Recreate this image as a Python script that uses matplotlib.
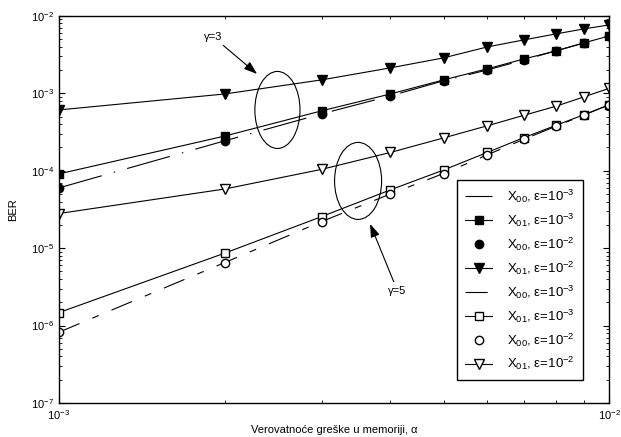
import matplotlib
matplotlib.use("Agg")
from matplotlib import pyplot as plt
from matplotlib.patches import Ellipse
from matplotlib.ticker import NullFormatter

plt.rcParams["font.family"] = ["Liberation Sans", "DejaVu Sans"]
plt.rcParams["font.size"] = 8
plt.rcParams["mathtext.fontset"] = "custom"
plt.rcParams["mathtext.rm"] = "Liberation Sans"
plt.rcParams["mathtext.it"] = "Liberation Sans:italic"
plt.rcParams["lines.scale_dashes"] = False

# memory error probability
alpha = [1e-3, 2e-3, 3e-3, 4e-3, 5e-3, 6e-3, 7e-3, 8e-3, 9e-3, 1e-2]

# gamma = 3
x00_e3_g3 = [6.0e-5, 2.43e-4, 5.42e-4, 9.25e-4, 1.45e-3, 2.0e-3, 2.7e-3, 3.53e-3, 4.48e-3, 5.52e-3]
x01_e3_g3 = [9.1e-5, 2.8e-4, 5.93e-4, 9.8e-4, 1.49e-3, 2.07e-3, 2.78e-3, 3.53e-3, 4.48e-3, 5.52e-3]
x00_e2_g3 = [6.0e-5, 2.43e-4, 5.42e-4, 9.25e-4, 1.45e-3, 2.0e-3, 2.7e-3, 3.53e-3, 4.48e-3, 5.52e-3]
x01_e2_g3 = [6.1e-4, 9.8e-4, 1.49e-3, 2.13e-3, 2.87e-3, 3.97e-3, 4.9e-3, 5.85e-3, 6.8e-3, 7.65e-3]

# gamma = 5
x00_e3_g5 = [8.2e-7, 6.5e-6, 2.2e-5, 5.0e-5, 9.2e-5, 1.6e-4, 2.55e-4, 3.75e-4, 5.25e-4, 7.1e-4]
x01_e3_g5 = [1.47e-6, 8.6e-6, 2.55e-5, 5.65e-5, 1.02e-4, 1.72e-4, 2.68e-4, 3.85e-4, 5.3e-4, 7.1e-4]
x00_e2_g5 = [8.2e-7, 6.5e-6, 2.2e-5, 5.0e-5, 9.2e-5, 1.6e-4, 2.55e-4, 3.75e-4, 5.25e-4, 7.1e-4]
x01_e2_g5 = [2.8e-5, 5.8e-5, 1.04e-4, 1.72e-4, 2.65e-4, 3.8e-4, 5.2e-4, 6.8e-4, 9.0e-4, 1.16e-3]

lbl_00_3 = r"X$_{00}$, ε=10$^{-3}$"
lbl_01_3 = r"X$_{01}$, ε=10$^{-3}$"
lbl_00_2 = r"X$_{00}$, ε=10$^{-2}$"
lbl_01_2 = r"X$_{01}$, ε=10$^{-2}$"

fig = plt.figure(figsize=(6.21, 4.37), dpi=100)
ax = fig.add_axes([0.095, 0.078, 0.886, 0.8856])

lw = 0.8
ax.plot(alpha, x00_e3_g3, color="black", lw=lw, linestyle=(0, (32, 9, 1, 9)), label=lbl_00_3)
ax.plot(alpha, x01_e3_g3, color="black", lw=lw, marker="s", ms=6, label=lbl_01_3)
ax.plot(alpha, x00_e2_g3, color="black", lw=0, marker="o", ms=6, label=lbl_00_2)
ax.plot(alpha, x01_e2_g3, color="black", lw=lw, marker="v", ms=7, label=lbl_01_2)
ax.plot(alpha, x00_e3_g5, color="black", lw=lw, linestyle=(0, (16, 10, 5, 10)), label=lbl_00_3)
ax.plot(alpha, x01_e3_g5, color="black", lw=lw, marker="s", ms=6, mfc="white", label=lbl_01_3)
ax.plot(alpha, x00_e2_g5, color="black", lw=0, marker="o", ms=6, mfc="white", label=lbl_00_2)
ax.plot(alpha, x01_e2_g5, color="black", lw=lw, marker="v", ms=7, mfc="white", label=lbl_01_2)

ax.set_xscale("log")
ax.set_yscale("log")
ax.set_xlim(1e-3, 1e-2)
ax.set_ylim(1e-7, 1e-2)
ax.xaxis.set_minor_formatter(NullFormatter())
ax.tick_params(which="both", direction="in", top=True, right=True, labelsize=8)
ax.tick_params(which="major", length=4)
ax.tick_params(which="minor", length=2)
for s in ax.spines.values():
    s.set_linewidth(1.0)

ax.set_xlabel("Verovatnoće greške u memoriji, α", fontsize=8, labelpad=2.5)
ax.set_ylabel("BER", fontsize=8, labelpad=9)

# grouping ellipses and their arrows
ax.add_patch(Ellipse((0.397, 0.757), 0.082, 0.199, transform=ax.transAxes,
                     fill=False, color="black", lw=0.8))
ax.add_patch(Ellipse((0.5436, 0.5736), 0.0855, 0.199, transform=ax.transAxes,
                     fill=False, color="black", lw=0.8))
ax.annotate("γ=3", xy=(0.36, 0.85), xytext=(0.28, 0.946), xycoords="axes fraction",
            textcoords="axes fraction", ha="center", va="center", fontsize=8,
            arrowprops=dict(arrowstyle="-|>,head_length=1.0,head_width=0.35",
                            color="black", lw=0.8, shrinkA=1, shrinkB=0))
ax.annotate("γ=5", xy=(0.5655, 0.4625), xytext=(0.615, 0.29), xycoords="axes fraction",
            textcoords="axes fraction", ha="center", va="center", fontsize=8,
            arrowprops=dict(arrowstyle="-|>,head_length=1.0,head_width=0.35",
                            color="black", lw=0.8, shrinkA=1, shrinkB=0))

leg = ax.legend(loc="upper left", bbox_to_anchor=(0.7236, 0.576), borderaxespad=0,
                fancybox=False, edgecolor="black", framealpha=1, fontsize=9.5,
                handlelength=2.05, handletextpad=1.15, labelspacing=0.5, borderpad=0.6)
leg.get_frame().set_linewidth(1.0)

fig.savefig("out.png", dpi=100)
